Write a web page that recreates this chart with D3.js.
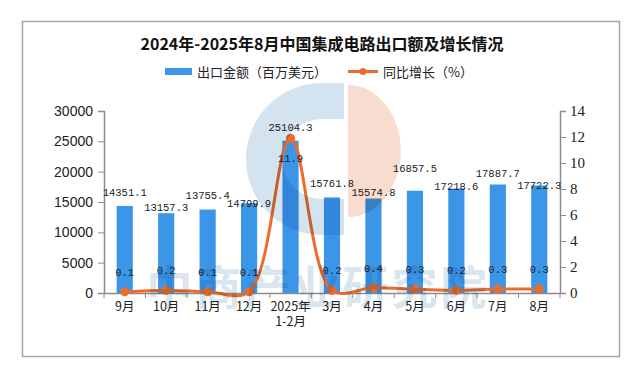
<!DOCTYPE html>
<html>
<head>
<meta charset="utf-8">
<script src="https://cdn.jsdelivr.net/npm/d3@7"></script>
<style>
  body { margin: 0; background: #fff; }
  .mark { mix-blend-mode: multiply; }
</style>
</head>
<body>
<div id="container"></div>
<script>
/* DATA */
const categories = ["9月", "10月", "11月", "12月", "2025年\n1-2月", "3月", "4月", "5月", "6月", "7月", "8月"];
const exportValues = [14351.1, 13157.3, 13755.4, 14799.9, 25104.3, 15761.8, 15574.8, 16857.5, 17218.6, 17887.7, 17722.3];
const growthValues = [0.1, 0.2, 0.1, 0.1, 11.9, 0.2, 0.4, 0.3, 0.2, 0.3, 0.3];
const leftTicks = [0, 5000, 10000, 15000, 20000, 25000, 30000];
const rightTicks = [0, 2, 4, 6, 8, 10, 12, 14];
const titleText = "2024年-2025年8月中国集成电路出口额及增长情况";
const legendBar = "出口金额（百万美元）";
const legendLine = "同比增长（%）";

// label nudges (px) so the bar labels don't sit on top of each other
const barLabelDy = [-14, -6, -15, 0, -14, -14, -7, -23, -3, -11, 0];

/* CONSTANTS */
const width = 640, height = 378,
  margin = { top: 111, bottom: 85, left: 104, right: 80 };
const barColor = "#3b96e8", lineColor = "#ec6c2e";

const svg = d3.select("#container").append("svg")
  .attr("width", width)
  .attr("height", height);

// outer frame
svg.append("rect")
  .attr("x", 22.5).attr("y", 21.5)
  .attr("width", 597).attr("height", 335)
  .attr("fill", "#fff")
  .attr("stroke", "#a6a6a6")
  .attr("stroke-width", 1.5);

/* SCALES */
const xScale = d3.scaleBand()
  .domain(categories)
  .range([margin.left, width - margin.right])
  .paddingInner(0.61)
  .paddingOuter(0.305);

const yLeft = d3.scaleLinear()
  .domain([0, 30000])
  .range([height - margin.bottom, margin.top]);

const yRight = d3.scaleLinear()
  .domain([0, 14])
  .range([height - margin.bottom, margin.top]);

const cx = d => xScale(d) + xScale.bandwidth() / 2;

/* TITLE + LEGEND */
svg.append("text")
  .attr("x", 322).attr("y", 50)
  .attr("text-anchor", "middle")
  .attr("font-family", "Noto Sans CJK SC")
  .attr("font-weight", "bold")
  .attr("font-size", 16)
  .attr("fill", "#111")
  .text(titleText);

const legend = svg.append("g")
  .attr("font-family", "Noto Sans CJK SC")
  .attr("font-size", 13)
  .attr("fill", "#222");
legend.append("rect")
  .attr("x", 165).attr("y", 68).attr("width", 27).attr("height", 7)
  .attr("fill", barColor);
legend.append("text").attr("x", 197).attr("y", 77).text(legendBar);
legend.append("line")
  .attr("x1", 348).attr("x2", 378).attr("y1", 71.5).attr("y2", 71.5)
  .attr("stroke", lineColor).attr("stroke-width", 3);
legend.append("circle").attr("cx", 363).attr("cy", 71.5).attr("r", 3.5).attr("fill", lineColor);
legend.append("text").attr("x", 383).attr("y", 77).text(legendLine);

/* AXES */
const axisColor = "#8c8c8c";

const leftAxis = svg.append("g")
  .attr("transform", `translate(${margin.left},0)`)
  .call(d3.axisLeft(yLeft).tickValues(leftTicks).tickFormat(d3.format("d")).tickSize(6).tickPadding(5));

const rightAxis = svg.append("g")
  .attr("transform", `translate(${width - margin.right},0)`)
  .call(d3.axisRight(yRight).tickValues(rightTicks).tickSize(6).tickPadding(4));

const bottomAxis = svg.append("g")
  .attr("transform", `translate(0,${height - margin.bottom})`)
  .call(d3.axisBottom(xScale).tickSize(0).tickPadding(9));

[leftAxis, rightAxis, bottomAxis].forEach(g => {
  g.select(".domain").attr("stroke", axisColor).attr("stroke-width", 1.5);
  g.selectAll(".tick line").attr("stroke", axisColor);
});
leftAxis.selectAll("text")
  .attr("font-family", "Liberation Sans").attr("font-size", 14).attr("fill", "#222");
rightAxis.selectAll("text")
  .attr("font-family", "Liberation Serif").attr("font-size", 15).attr("fill", "#222");

// category labels, two lines for 2025年 1-2月
bottomAxis.selectAll(".tick text")
  .attr("font-family", "Noto Sans CJK SC").attr("font-size", 12.5).attr("fill", "#222")
  .each(function (d) {
    const parts = d.split("\n");
    const t = d3.select(this).text(null);
    parts.forEach((p, i) => {
      t.append("tspan").attr("x", 0).attr("dy", i === 0 ? "0.71em" : "1.2em").text(p);
    });
  });

// tick marks between categories
const step = xScale.step();
bottomAxis.selectAll("line.sep")
  .data(d3.range(categories.length + 1))
  .join("line")
  .attr("class", "sep")
  .attr("x1", i => margin.left + i * step)
  .attr("x2", i => margin.left + i * step)
  .attr("y1", 0).attr("y2", 5)
  .attr("stroke", axisColor);

/* BARS */
svg.selectAll("rect.bar")
  .data(exportValues)
  .join("rect")
  .attr("class", "bar")
  .attr("x", (d, i) => xScale(categories[i]))
  .attr("y", d => yLeft(d))
  .attr("width", xScale.bandwidth())
  .attr("height", d => yLeft(0) - yLeft(d))
  .attr("fill", barColor);

/* LINE */
const line = d3.line()
  .x((d, i) => cx(categories[i]))
  .y(d => yRight(d))
  .curve(d3.curveCatmullRom.alpha(0.5));

svg.append("path")
  .datum(growthValues)
  .attr("d", line)
  .attr("fill", "none")
  .attr("stroke", lineColor)
  .attr("stroke-width", 3);

svg.selectAll("circle.pt")
  .data(growthValues)
  .join("circle")
  .attr("class", "pt")
  .attr("cx", (d, i) => cx(categories[i]))
  .attr("cy", d => yRight(d))
  .attr("r", 4.5)
  .attr("fill", lineColor);

/* LABELS */
svg.selectAll("text.barlabel")
  .data(exportValues)
  .join("text")
  .attr("class", "barlabel")
  .attr("x", (d, i) => cx(categories[i]))
  .attr("y", (d, i) => yLeft(d) + barLabelDy[i] + 4)
  .attr("text-anchor", "middle")
  .attr("font-family", "Liberation Mono")
  .attr("font-size", 10.5)
  .attr("fill", "#222")
  .text(d => d.toFixed(1));

svg.selectAll("text.linelabel")
  .data(growthValues)
  .join("text")
  .attr("class", "linelabel")
  .attr("x", (d, i) => cx(categories[i]))
  // above the point, unless the point sits above its bar
  .attr("y", (d, i) => yRight(d) < yLeft(exportValues[i]) ? yRight(d) + 24 : yRight(d) - 16)
  .attr("text-anchor", "middle")
  .attr("font-family", "Liberation Mono")
  .attr("font-size", 10.5)
  .attr("fill", "#222")
  .text(d => d.toFixed(1));

/* WATERMARK */
const wm = svg.append("g").attr("class", "mark").attr("pointer-events", "none");
wm.append("path")
  .attr("transform", "translate(322,159)")
  .attr("d", d3.arc().innerRadius(40).outerRadius(76).startAngle(-Math.PI).endAngle(0)())
  .attr("fill", "#d3e3ef");
wm.append("rect").attr("x", 322).attr("y", 83).attr("width", 22).attr("height", 36).attr("fill", "#d3e3ef");
wm.append("rect").attr("x", 322).attr("y", 199).attr("width", 22).attr("height", 36).attr("fill", "#d3e3ef");
wm.append("path")
  .attr("transform", "translate(348,151) scale(0.8,1)")
  .attr("d", d3.arc().innerRadius(0).outerRadius(66).startAngle(0).endAngle(Math.PI)())
  .attr("fill", "#f8dccf");
wm.append("text")
  .attr("x", 318).attr("y", 304)
  .attr("text-anchor", "middle")
  .attr("font-family", "Noto Sans CJK SC")
  .attr("font-weight", "bold")
  .attr("font-size", 46)
  .attr("letter-spacing", 3)
  .attr("fill", "#c9dbe9")
  .attr("opacity", 0.7)
  .text("中商产业研究院");
</script>
</body>
</html>
